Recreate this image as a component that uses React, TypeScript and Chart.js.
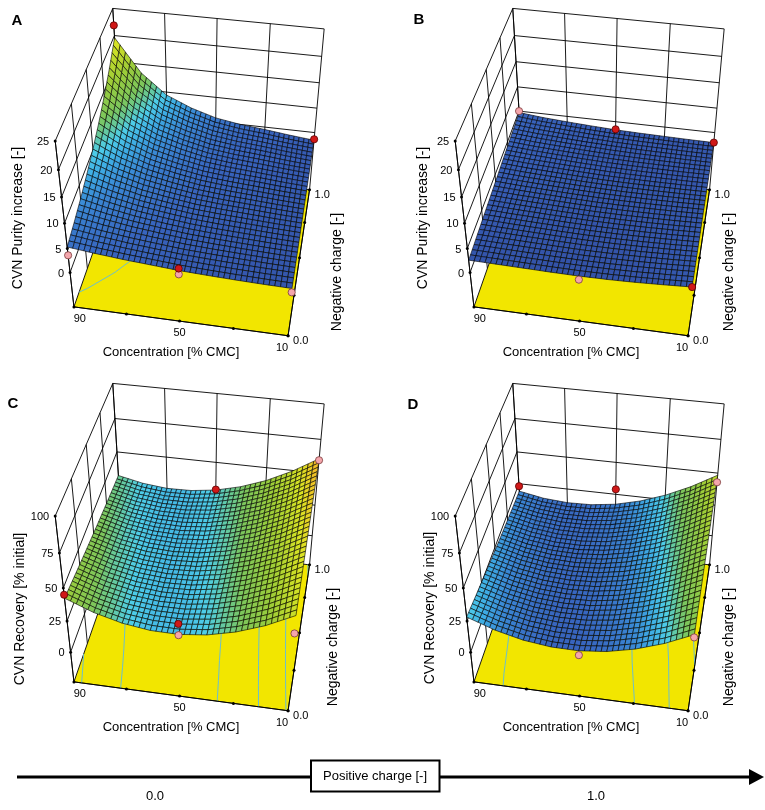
import { useEffect, useRef } from "react";
import { Chart, registerables } from "chart.js";

Chart.register(...registerables);

// grid the response surfaces were read on
const CONC = [90, 80, 70, 60, 50, 40, 30, 20, 10];
const CHARGE = [0, 0.125, 0.25, 0.375, 0.5, 0.625, 0.75, 0.875, 1];

const CONC_TICKS = [90, 70, 50, 30, 10];
const CONC_LABELS = [90, 50, 10];
const CHARGE_TICKS = [0, 0.25, 0.5, 0.75, 1];
const CHARGE_LABELS = [0, 1];
const PURITY_TICKS = [0, 5, 10, 15, 20, 25];
const RECOVERY_TICKS = [0, 25, 50, 75, 100];
const PURITY_LEVELS = [6, 12, 18, 24];
const RECOVERY_LEVELS = [20, 30, 40, 50, 60];
const POSITIVE_CHARGE = ["0.0", "1.0"];

// rows: negative charge 0 -> 1, columns: concentration 90 -> 10
const purityPos0 = [
    [5.3, 4.7, 4.2, 3.8, 3.4, 3.15, 2.95, 2.8, 2.7],
    [6.24, 5.35, 4.65, 4.12, 3.63, 3.34, 3.11, 2.92, 2.78],
    [7.35, 6.1, 5.14, 4.47, 3.89, 3.54, 3.28, 3.04, 2.86],
    [8.66, 6.94, 5.68, 4.85, 4.15, 3.75, 3.46, 3.17, 2.94],
    [10.19, 7.91, 6.29, 5.27, 4.44, 3.97, 3.64, 3.3, 3.03],
    [12.0, 9.0, 6.95, 5.71, 4.75, 4.21, 3.84, 3.44, 3.12],
    [14.14, 10.25, 7.69, 6.2, 5.08, 4.46, 4.05, 3.59, 3.21],
    [16.65, 11.68, 8.51, 6.73, 5.43, 4.72, 4.27, 3.74, 3.31],
    [19.6, 13.3, 9.4, 7.3, 5.8, 5.0, 4.5, 3.9, 3.4],
];
const purityPos1 = [
    [2.6, 2.5, 2.4, 2.3, 2.25, 2.3, 2.45, 2.7, 3.0],
    [2.86, 2.71, 2.58, 2.46, 2.38, 2.41, 2.53, 2.73, 2.99],
    [3.13, 2.93, 2.76, 2.61, 2.51, 2.51, 2.6, 2.76, 2.98],
    [3.39, 3.14, 2.94, 2.77, 2.64, 2.62, 2.68, 2.79, 2.96],
    [3.65, 3.35, 3.13, 2.93, 2.78, 2.73, 2.75, 2.83, 2.95],
    [3.91, 3.56, 3.31, 3.08, 2.91, 2.83, 2.83, 2.86, 2.94],
    [4.18, 3.78, 3.49, 3.24, 3.04, 2.94, 2.9, 2.89, 2.93],
    [4.44, 3.99, 3.67, 3.39, 3.17, 3.04, 2.98, 2.92, 2.91],
    [4.7, 4.2, 3.85, 3.55, 3.3, 3.15, 3.05, 2.95, 2.9],
];
const recoveryPos0 = [
    [42.4, 34.3, 28.8, 25.9, 25.6, 28.0, 33.0, 40.6, 50.8],
    [40.7, 33.1, 28.1, 25.7, 25.8, 28.5, 33.8, 41.7, 52.1],
    [39.1, 32.0, 27.5, 25.5, 26.0, 29.1, 34.7, 42.8, 53.4],
    [37.6, 31.0, 27.0, 25.4, 26.3, 29.7, 35.6, 43.9, 54.7],
    [36.2, 30.2, 26.6, 25.4, 26.7, 30.4, 36.5, 45.0, 56.0],
    [34.9, 29.4, 26.2, 25.4, 27.0, 31.0, 37.4, 46.1, 57.2],
    [33.7, 28.6, 25.9, 25.5, 27.5, 31.7, 38.3, 47.2, 58.4],
    [32.6, 28.0, 25.7, 25.7, 27.9, 32.4, 39.2, 48.3, 59.6],
    [31.6, 27.5, 25.5, 25.9, 28.4, 33.2, 40.1, 49.4, 60.8],
];
const recoveryPos1 = [
    [28.1, 20.6, 15.5, 12.9, 12.7, 15.0, 19.8, 27.0, 36.6],
    [26.6, 19.6, 15.0, 12.9, 13.1, 15.7, 20.8, 28.3, 38.1],
    [25.2, 18.7, 14.6, 12.9, 13.5, 16.5, 21.9, 29.6, 39.6],
    [23.9, 17.9, 14.3, 13.0, 14.0, 17.3, 22.9, 30.9, 41.1],
    [22.7, 17.3, 14.1, 13.2, 14.5, 18.1, 24.0, 32.2, 42.6],
    [21.6, 16.7, 13.9, 13.4, 15.1, 19.0, 25.2, 33.5, 44.1],
    [20.7, 16.2, 13.8, 13.7, 15.7, 19.9, 26.3, 34.9, 45.6],
    [19.8, 15.8, 13.8, 14.0, 16.4, 20.8, 27.4, 36.2, 47.0],
    [19.0, 15.4, 13.9, 14.4, 17.0, 21.8, 28.6, 37.5, 48.4],
];

// measured runs [concentration, negative charge, value]
const aboveA = [[90, 1, 21.9], [50, 0, 3.8], [10, 1, 3.6]];
const belowA = [[90, 0, 3.6], [50, 0, 2.6], [10, 0, 1.9]];
const aboveB = [[50, 1, 3.4], [10, 1, 2.9], [10, 0, 3.0]];
const belowB = [[90, 1, 5.0], [50, 0, 1.5]];
const aboveC = [[90, 0, 45], [50, 0, 33.7], [50, 1, 28.8]];
const belowC = [[50, 0, 25], [10, 0, 37.5], [10, 1, 59.7]];
const aboveD = [[90, 1, 23], [50, 1, 29]];
const belowD = [[10, 1, 43], [10, 0, 34.5], [50, 0, 9.2]];

const FONT = '"Liberation Sans", Arial, Helvetica, sans-serif';

// view of the box
const AZ = (10 * Math.PI) / 180;
const EL = (41 * Math.PI) / 180;
const CAM = 10;
const SCALE = 108;
const CX = 198.5;
const CY = 168.5;
const SUB_C = 5;
const SUB_Q = 4;

const CMAP = [
    [0.0, 50, 78, 162],
    [0.12, 56, 100, 190],
    [0.22, 58, 135, 212],
    [0.29, 62, 172, 228],
    [0.35, 78, 205, 232],
    [0.4, 102, 201, 155],
    [0.45, 124, 198, 92],
    [0.58, 158, 205, 55],
    [0.74, 218, 228, 35],
    [0.86, 248, 180, 40],
    [1.0, 235, 80, 30],
];

const colour = (t: number) => {
    const v = Math.max(0, Math.min(1, t));
    for (let k = 1; k < CMAP.length; k++) {
        if (v <= CMAP[k][0]) {
            const a = CMAP[k - 1];
            const b = CMAP[k];
            const f = (v - a[0]) / (b[0] - a[0]);
            const m = (n: number) => Math.round(a[n] + (b[n] - a[n]) * f);
            return `rgb(${m(1)},${m(2)},${m(3)})`;
        }
    }
    return "rgb(235,80,30)";
};

interface Panel {
    id: string;
    grid: number[][];
    above: number[][];
    below: number[][];
    ox: number;
    oy: number;
    zMin: number;
    zMax: number;
    ticks: number[];
    levels: number[];
    title: string;
    c0: number;
    c1: number;
    titleX: number;
    titleY: number;
    chargeX: number;
    letterX: number;
    letterY: number;
}

const panels: Panel[] = [
    { id: "A", grid: purityPos0, above: aboveA, below: belowA, ox: 0, oy: 0, zMin: -7.5, zMax: 25, ticks: PURITY_TICKS, levels: PURITY_LEVELS, title: "CVN Purity increase [-]", c0: 1.7, c1: 25, titleX: 18, titleY: 218, chargeX: 337, letterX: 17, letterY: 21 },
    { id: "B", grid: purityPos1, above: aboveB, below: belowB, ox: 400, oy: 0, zMin: -7.5, zMax: 25, ticks: PURITY_TICKS, levels: PURITY_LEVELS, title: "CVN Purity increase [-]", c0: 1.7, c1: 25, titleX: 23, titleY: 218, chargeX: 329, letterX: 19, letterY: 20 },
    { id: "C", grid: recoveryPos0, above: aboveC, below: belowC, ox: 0, oy: 375, zMin: -25, zMax: 100, ticks: RECOVERY_TICKS, levels: RECOVERY_LEVELS, title: "CVN Recovery [% initial]", c0: 5, c1: 70, titleX: 20, titleY: 234, chargeX: 333, letterX: 13, letterY: 29 },
    { id: "D", grid: recoveryPos1, above: aboveD, below: belowD, ox: 400, oy: 375, zMin: -25, zMax: 100, ticks: RECOVERY_TICKS, levels: RECOVERY_LEVELS, title: "CVN Recovery [% initial]", c0: 5, c1: 70, titleX: 30, titleY: 233, chargeX: 329, letterX: 13, letterY: 30 },
];

function project(p: Panel, c: number, q: number, z: number) {
    const X = (90 - c) / 40 - 1;
    const Y = 2 * q - 1;
    const Z = (2 * (z - p.zMin)) / (p.zMax - p.zMin) - 1;
    const xr = X * Math.cos(AZ) + Y * Math.sin(AZ);
    const yr = -X * Math.sin(AZ) + Y * Math.cos(AZ);
    const depth = yr * Math.cos(EL) - Z * Math.sin(EL);
    const up = yr * Math.sin(EL) + Z * Math.cos(EL);
    const s = CAM / (CAM + depth);
    return { x: p.ox + CX + SCALE * xr * s, y: p.oy + CY - SCALE * up * s, d: depth };
}

type Pt = [number, number, number];

function drawPanel(chart: Chart, p: Panel) {
    const ctx = chart.ctx;
    const xs = chart.scales.x;
    const ys = chart.scales.y;
    const P = (c: number, q: number, z: number): Pt => {
        const v = project(p, c, q, z);
        return [xs.getPixelForValue(v.x), ys.getPixelForValue(v.y), v.d];
    };
    const seg = (a: Pt, b: Pt) => {
        ctx.beginPath();
        ctx.moveTo(a[0], a[1]);
        ctx.lineTo(b[0], b[1]);
        ctx.stroke();
    };
    const poly = (pts: Pt[]) => {
        ctx.beginPath();
        pts.forEach((pt, k) => (k ? ctx.lineTo(pt[0], pt[1]) : ctx.moveTo(pt[0], pt[1])));
        ctx.closePath();
    };
    const dot = (pt: Pt) => {
        ctx.beginPath();
        ctx.arc(pt[0], pt[1], 1.5, 0, Math.PI * 2);
        ctx.fill();
    };
    const lo = p.zMin;
    const hi = p.zMax;

    ctx.save();
    ctx.strokeStyle = "#000";
    ctx.lineWidth = 0.9;

    // back wall and left wall grids
    CONC_TICKS.forEach((c) => seg(P(c, 1, lo), P(c, 1, hi)));
    p.ticks.forEach((z) => seg(P(90, 1, z), P(10, 1, z)));
    CHARGE_TICKS.forEach((q) => seg(P(90, q, lo), P(90, q, hi)));
    p.ticks.forEach((z) => seg(P(90, 0, z), P(90, 1, z)));

    // floor
    poly([P(90, 0, lo), P(10, 0, lo), P(10, 1, lo), P(90, 1, lo)]);
    ctx.fillStyle = "#f2e600";
    ctx.fill();
    ctx.stroke();

    // contour projection on the floor
    const g = p.grid;
    ctx.strokeStyle = "#6cbfcc";
    ctx.lineWidth = 1;
    p.levels.forEach((L) => {
        for (let j = 0; j < CHARGE.length - 1; j++) {
            for (let i = 0; i < CONC.length - 1; i++) {
                const cs = [[i, j], [i + 1, j], [i + 1, j + 1], [i, j + 1]];
                const hits: Pt[] = [];
                for (let e = 0; e < 4; e++) {
                    const a = cs[e];
                    const b = cs[(e + 1) % 4];
                    const va = g[a[1]][a[0]];
                    const vb = g[b[1]][b[0]];
                    if ((va - L) * (vb - L) < 0) {
                        const t = (L - va) / (vb - va);
                        const c = CONC[a[0]] + (CONC[b[0]] - CONC[a[0]]) * t;
                        const q = CHARGE[a[1]] + (CHARGE[b[1]] - CHARGE[a[1]]) * t;
                        hits.push(P(c, q, lo));
                    }
                }
                if (hits.length >= 2) seg(hits[0], hits[1]);
                if (hits.length === 4) seg(hits[2], hits[3]);
            }
        }
    });

    // surface mesh, far cells first
    const quads: { pts: Pt[]; z: number; d: number }[] = [];
    for (let j = 0; j < CHARGE.length - 1; j++) {
        for (let i = 0; i < CONC.length - 1; i++) {
            const val = (u: number, w: number) =>
                g[j][i] * (1 - u) * (1 - w) + g[j][i + 1] * u * (1 - w) + g[j + 1][i] * (1 - u) * w + g[j + 1][i + 1] * u * w;
            for (let a = 0; a < SUB_C; a++) {
                for (let b = 0; b < SUB_Q; b++) {
                    const uv = [
                        [a / SUB_C, b / SUB_Q],
                        [(a + 1) / SUB_C, b / SUB_Q],
                        [(a + 1) / SUB_C, (b + 1) / SUB_Q],
                        [a / SUB_C, (b + 1) / SUB_Q],
                    ];
                    let zs = 0;
                    let ds = 0;
                    const pts = uv.map(([u, w]) => {
                        const z = val(u, w);
                        const pt = P(CONC[i] + (CONC[i + 1] - CONC[i]) * u, CHARGE[j] + (CHARGE[j + 1] - CHARGE[j]) * w, z);
                        zs += z;
                        ds += pt[2];
                        return pt;
                    });
                    quads.push({ pts, z: zs / 4, d: ds / 4 });
                }
            }
        }
    }
    quads.sort((m, n) => n.d - m.d);
    ctx.lineWidth = 0.7;
    ctx.strokeStyle = "rgba(0,0,0,0.85)";
    quads.forEach((qd) => {
        poly(qd.pts);
        ctx.fillStyle = colour((qd.z - p.c0) / (p.c1 - p.c0));
        ctx.fill();
        ctx.stroke();
    });

    // front axes
    ctx.strokeStyle = "#000";
    ctx.lineWidth = 0.9;
    seg(P(90, 0, lo), P(90, 0, hi));
    seg(P(90, 0, lo), P(10, 0, lo));
    seg(P(10, 0, lo), P(10, 1, lo));
    ctx.fillStyle = "#000";
    p.ticks.forEach((z) => dot(P(90, 0, z)));
    CONC_TICKS.forEach((c) => dot(P(c, 0, lo)));
    CHARGE_TICKS.forEach((q) => dot(P(10, q, lo)));
    ctx.restore();
}

function drawPanelText(chart: Chart, p: Panel) {
    const ctx = chart.ctx;
    const xs = chart.scales.x;
    const ys = chart.scales.y;
    const P = (c: number, q: number, z: number) => {
        const v = project(p, c, q, z);
        return [xs.getPixelForValue(v.x), ys.getPixelForValue(v.y)];
    };
    const L = (x: number, y: number) => [xs.getPixelForValue(p.ox + x), ys.getPixelForValue(p.oy + y)];
    const vertical = (text: string, x: number, y: number) => {
        const [px, py] = L(x, y);
        ctx.save();
        ctx.translate(px, py);
        ctx.rotate(-Math.PI / 2);
        ctx.fillText(text, 0, 0);
        ctx.restore();
    };
    ctx.save();
    ctx.fillStyle = "#000";
    ctx.textBaseline = "middle";

    ctx.font = `11px ${FONT}`;
    ctx.textAlign = "right";
    p.ticks.forEach((z) => {
        const [x, y] = P(90, 0, z);
        ctx.fillText(String(z), x - 6, y + 1);
    });
    ctx.textAlign = "center";
    const mid = P(50, 0, p.zMin)[0];
    CONC_LABELS.forEach((c) => {
        const [x, y] = P(c, 0, p.zMin);
        ctx.fillText(String(c), x + (mid - x) * 0.055, y + 12);
    });
    ctx.textAlign = "left";
    CHARGE_LABELS.forEach((q) => {
        const [x, y] = P(10, q, p.zMin);
        ctx.fillText(q.toFixed(1), x + 5, y + 5);
    });

    ctx.textAlign = "center";
    ctx.font = `14px ${FONT}`;
    vertical(p.title, p.titleX, p.titleY);
    vertical("Negative charge [-]", p.chargeX, 272);
    ctx.font = `13px ${FONT}`;
    const [tx, ty] = L(171, 352);
    ctx.fillText("Concentration [% CMC]", tx, ty);

    ctx.font = `bold 15px ${FONT}`;
    const [lx, ly] = L(p.letterX, p.letterY);
    ctx.fillText(p.id, lx, ly);
    ctx.restore();
}

function drawArrow(chart: Chart) {
    const ctx = chart.ctx;
    const X = (v: number) => chart.scales.x.getPixelForValue(v);
    const Y = (v: number) => chart.scales.y.getPixelForValue(v);
    ctx.save();
    ctx.strokeStyle = "#000";
    ctx.fillStyle = "#000";
    ctx.lineWidth = 3;
    ctx.beginPath();
    ctx.moveTo(X(17), Y(777));
    ctx.lineTo(X(752), Y(777));
    ctx.stroke();
    ctx.beginPath();
    ctx.moveTo(X(764), Y(777));
    ctx.lineTo(X(749), Y(769));
    ctx.lineTo(X(749), Y(785));
    ctx.closePath();
    ctx.fill();

    ctx.fillStyle = "#fff";
    ctx.fillRect(X(311), Y(760.5), X(439.5) - X(311), Y(791.5) - Y(760.5));
    ctx.lineWidth = 2;
    ctx.strokeRect(X(311), Y(760.5), X(439.5) - X(311), Y(791.5) - Y(760.5));

    ctx.fillStyle = "#000";
    ctx.font = `13px ${FONT}`;
    ctx.textAlign = "center";
    ctx.textBaseline = "middle";
    ctx.fillText("Positive charge [-]", X(375), Y(776.5));
    ctx.fillText(POSITIVE_CHARGE[0], X(155), Y(796));
    ctx.fillText(POSITIVE_CHARGE[1], X(596), Y(796));
    ctx.restore();
}

const surfacePlugin = {
    id: "surfaces",
    beforeDatasetsDraw(chart: Chart) {
        panels.forEach((p) => drawPanel(chart, p));
    },
    afterDatasetsDraw(chart: Chart) {
        panels.forEach((p) => drawPanelText(chart, p));
        drawArrow(chart);
    },
};

const toPoints = (key: "above" | "below") =>
    panels.flatMap((p) =>
        p[key].map(([c, q, z]) => {
            const v = project(p, c, q, z);
            return { x: v.x, y: v.y };
        })
    );

export default function App() {
    const chartRef = useRef<HTMLCanvasElement>(null);

    useEffect(() => {
        if (!chartRef.current) return;
        const chart = new Chart(chartRef.current, {
            type: "scatter",
            data: {
                datasets: [
                    {
                        label: "above surface",
                        data: toPoints("above"),
                        backgroundColor: "#d01818",
                        borderColor: "#5a0000",
                        borderWidth: 0.8,
                        pointRadius: 3.6,
                    },
                    {
                        label: "below surface",
                        data: toPoints("below"),
                        backgroundColor: "#f4a6ac",
                        borderColor: "#7a3a3a",
                        borderWidth: 0.8,
                        pointRadius: 3.6,
                    },
                ],
            },
            options: {
                animation: false,
                responsive: false,
                events: [],
                layout: { padding: 0, autoPadding: false },
                plugins: { legend: { display: false }, tooltip: { enabled: false } },
                scales: {
                    x: { type: "linear", min: 0, max: 765, display: false },
                    y: { type: "linear", min: 0, max: 810, reverse: true, display: false },
                },
            },
            plugins: [surfacePlugin],
        } as any);
        return () => chart.destroy();
    }, []);

    return (
        <div style={{ position: "absolute", left: 0, top: 0, width: 765, height: 810, background: "#fff" }}>
            <canvas ref={chartRef} width={765} height={810} style={{ width: 765, height: 810, display: "block" }} />
        </div>
    );
}
